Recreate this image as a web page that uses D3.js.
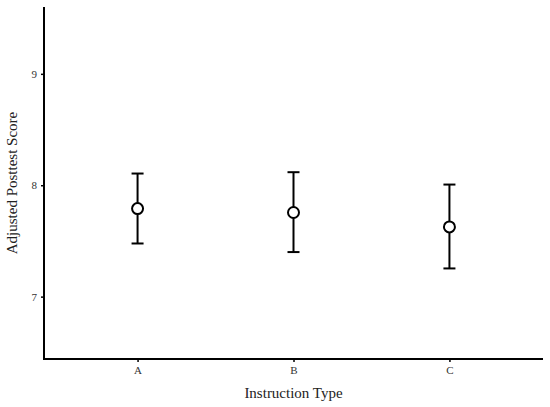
<!DOCTYPE html>
<html><head><meta charset="utf-8">
<script src="https://cdn.jsdelivr.net/npm/d3@7"></script>
<style>body{margin:0;background:#fff}svg{display:block}text{font-family:"Liberation Serif","Times New Roman",serif}</style>
</head><body>
<svg id="c" width="550" height="407"></svg>
<script>
const categories = ["A","B","C"];
const means = [7.79, 7.755, 7.626];
const upper = [8.105, 8.117, 8.006];
const lower = [7.477, 7.40, 7.253];
const yTicks = [7, 8, 9];

const svg = d3.select("#c");
const mLeft = 44, mRight = 543, mTop = 7, mBottom = 359;
const x = d3.scalePoint().domain(categories).range([mLeft, mRight]).padding(0.6);
const y = d3.scaleLinear().domain([6.44, 9.6]).range([mBottom, mTop]);

const data = categories.map((c,i)=>({c, m:means[i], u:upper[i], l:lower[i]}));

// axes
const ya = svg.append("g").attr("transform",`translate(${mLeft},0)`)
  .call(d3.axisLeft(y).tickValues(yTicks).tickFormat(d3.format("d")).tickSize(3).tickPadding(4).tickSizeOuter(0));
const xa = svg.append("g").attr("transform",`translate(0,${mBottom})`)
  .call(d3.axisBottom(x).tickSize(3).tickPadding(4).tickSizeOuter(0));
[ya, xa].forEach(g=>{
  g.select(".domain").attr("stroke","#000").attr("stroke-width",2);
  g.selectAll(".tick line").attr("stroke","#000").attr("stroke-width",1.5);
  g.selectAll(".tick text").attr("fill","#333").attr("font-size",11).attr("font-family","Liberation Serif");
});
ya.select(".domain").attr("d",`M0,${mTop}V${mBottom+1}`);
xa.select(".domain").attr("d",`M${mLeft-1},0H${mRight}`);

// error bars
const g = svg.append("g");
g.selectAll("line.v").data(data).join("line").attr("class","v")
  .attr("x1",d=>x(d.c)).attr("x2",d=>x(d.c)).attr("y1",d=>y(d.u)).attr("y2",d=>y(d.l))
  .attr("stroke","#000").attr("stroke-width",2);
g.selectAll("line.cu").data(data).join("line").attr("class","cu")
  .attr("x1",d=>x(d.c)-6).attr("x2",d=>x(d.c)+6).attr("y1",d=>y(d.u)).attr("y2",d=>y(d.u))
  .attr("stroke","#000").attr("stroke-width",2);
g.selectAll("line.cl").data(data).join("line").attr("class","cl")
  .attr("x1",d=>x(d.c)-6).attr("x2",d=>x(d.c)+6).attr("y1",d=>y(d.l)).attr("y2",d=>y(d.l))
  .attr("stroke","#000").attr("stroke-width",2);
g.selectAll("circle").data(data).join("circle")
  .attr("cx",d=>x(d.c)).attr("cy",d=>y(d.m)).attr("r",5.5)
  .attr("fill","#fff").attr("stroke","#000").attr("stroke-width",2);

// titles
svg.append("text").attr("x",(mLeft+mRight)/2).attr("y",398).attr("text-anchor","middle")
  .attr("font-size",15).attr("fill","#222").text("Instruction Type");
svg.append("text").attr("transform",`translate(17,${(mTop+mBottom)/2}) rotate(-90)`).attr("text-anchor","middle")
  .attr("font-size",15).attr("fill","#222").text("Adjusted Posttest Score");
</script>
</body></html>
